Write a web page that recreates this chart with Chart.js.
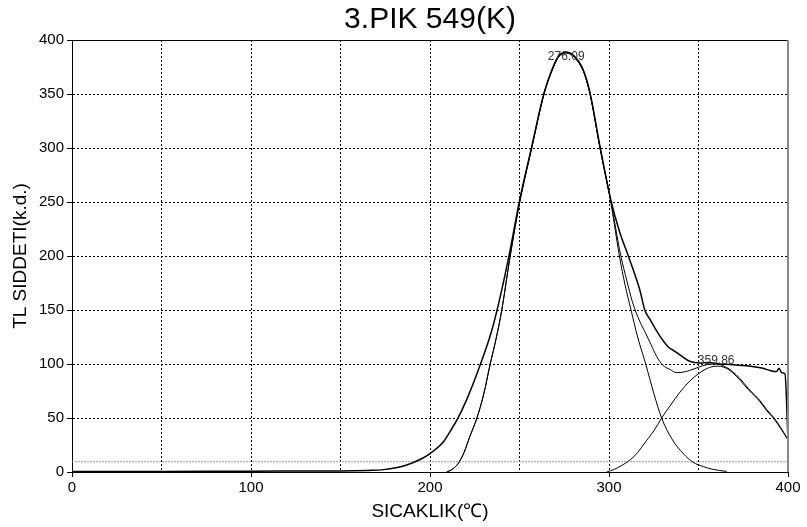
<!DOCTYPE html>
<html>
<head>
<meta charset="utf-8">
<script src="https://cdn.jsdelivr.net/npm/chart.js@4.4.0/dist/chart.umd.min.js"></script>
<style>
html,body{margin:0;padding:0;background:#fff;}
canvas{display:block;}
</style>
</head>
<body>
<canvas id="glow" width="807" height="527"></canvas>
<script>
// glow curve, 3rd peak — measured signal plus two fitted components and their sum
const measT = [0,50,100,150,165,174,187,195,200,207.5, 211,215,220.5,228,234.5,240,244.7,250,256.8,263.7,
  268,271.7,276.09,280,285.7,289.4,295,301,306,310.8, 317.3,320,323,328,333,336.5,340,345,351,356,
  362,368,375,381,386,390,393.6,395,396.5,398.3, 400];
const measI = [0.5,0.5,0.8,1,1.5,2.2,6.5,12,17,28, 37,48,67,99,131,168,205,251,301,351,
  372,385,389,386,372,351,301,252,222,200, 168,150,141,127,116,112,108,102.5,101,101.5,
  100,99.5,98.5,97.5,96,94,93,96,92,91, 30];

const peak1T = [209.3,212,215.8,219,222.3,226,230,233.5,237,240, 244.7,250,256.8,263.7,268,271.7,276.09,280,285.7,289.4,
  295,301,305.8,309,312.3,316,320.5,325,329.4,335, 341.5,347,352.7,358,365.7];
const peak1I = [0,2,8,18,33,49,72,99,124,149, 199,249,300,350,371,384,388,385,371,350,
  300,250,200,173,150,125,100,73,50,31, 17,9,5,2.5,0.5];

const peak2T = [298.7,303,307,311.7,316,320,325,329.4,334,339.7, 345,350,355,359.86,365,369,373.2,378,384.4,388, 391.8,396,400];
const peak2I = [0,2.5,6,11,18,27,38,50,61,74, 84,91,96,98,96.5,92,85,76,65,57, 50,40,30];

const sumT = [209.3,212,215.8,219,222.3,226,230,233.5,237,240, 244.7,250,256.8,263.7,268,271.7,276.09,280,285.7,289.4,
  295,301,306.5,310,313,317.3,320,323.5,326.6,330, 334,337.8,341.5,345,350,355,360,365,369,373.2, 378,384.4,388,391.8,396,400];
const sumI = [0,2,8,18,33,49,72,99,124,149, 199,249,300,350,371,384,388,385,371,350,
  300,251,201,177,158,139,130,118,107,99, 95,92,92.5,94,97,99.5,100,97.5,93,86.5, 77,66,58,51,41,30];

// background level
const levelT = [0, 400];
const levelI = [9.5, 9.5];

// fitted peak maxima
const peakT = [276.09, 359.86];
const peakI = [388, 98];

const xTicks = [0,50,100,150,200,250,300,350,400];
const xLabels = [0,100,200,300,400];
const yTicks = [0,50,100,150,200,250,300,350,400];

const FONT = 'Liberation Sans';

function pts(xs, ys){ return xs.map((x,i)=>({x:x, y:ys[i]})); }

function thin(data){
  return {data, borderColor:'#000', borderWidth:1, pointRadius:0, cubicInterpolationMode:'monotone', fill:false};
}

const titlePlugin = {
  id:'topTitle',
  afterDraw(chart){
    const {ctx, chartArea:a} = chart;
    ctx.save();
    ctx.fillStyle = '#000';
    ctx.font = '30px "' + FONT + '"';
    ctx.textAlign = 'center';
    ctx.textBaseline = 'middle';
    ctx.fillText('3.PIK 549(K)', (a.left + a.right)/2, 20);
    ctx.restore();
  }
};

// solid top edge and grey right edge of the plot box
const framePlugin = {
  id:'frame',
  afterDraw(chart){
    const {ctx, chartArea:a} = chart;
    ctx.save();
    ctx.lineWidth = 1;
    ctx.strokeStyle = '#000';
    ctx.beginPath(); ctx.moveTo(a.left, a.top + 0.5); ctx.lineTo(a.right, a.top + 0.5); ctx.stroke();
    ctx.strokeStyle = '#888';
    ctx.lineWidth = 2;
    ctx.beginPath(); ctx.moveTo(a.right, a.top); ctx.lineTo(a.right, a.bottom); ctx.stroke();
    ctx.restore();
  }
};

const peakLabelPlugin = {
  id:'peakLabels',
  afterDatasetsDraw(chart){
    const {ctx, scales} = chart;
    const shift = [4, -5];
    ctx.save();
    ctx.fillStyle = '#333';
    ctx.font = '12px "' + FONT + '"';
    ctx.textAlign = 'center';
    ctx.textBaseline = 'middle';
    peakT.forEach((t,i)=>{
      const x = scales.x.getPixelForValue(t);
      const y = scales.y.getPixelForValue(peakI[i]);
      ctx.fillText(t.toFixed(2), x, y + shift[i]);
    });
    ctx.restore();
  }
};

const edgeless = ctx => (ctx.tick && (ctx.tick.value === 0 || ctx.tick.value === 400)) ? 'rgba(0,0,0,0)' : '#000';

new Chart(document.getElementById('glow'), {
  type:'line',
  data:{
    datasets:[
      {data:pts(measT, measI), borderColor:'#000', borderWidth:1.5, pointRadius:0, cubicInterpolationMode:'monotone', fill:false},
      thin(pts(sumT, sumI)),
      thin(pts(peak1T, peak1I)),
      thin(pts(peak2T, peak2I)),
      {data:pts(levelT, levelI), borderColor:'#9a9a9a', borderWidth:1, borderDash:[2,1], pointRadius:0, fill:false}
    ]
  },
  options:{
    responsive:false,
    devicePixelRatio:1,
    animation:false,
    layout:{padding:{top:40, right:19, left:0, bottom:0}},
    plugins:{legend:{display:false}, tooltip:{enabled:false}, title:{display:false}},
    scales:{
      x:{
        type:'linear', min:0, max:400,
        afterBuildTicks: s => { s.ticks = xTicks.map(v=>({value:v})); },
        afterFit: s => { s.height = 55; },
        ticks:{
          autoSkip:false, maxRotation:0, padding:2, color:'#000',
          font:{family:FONT, size:15},
          callback: v => xLabels.includes(v) ? String(v) : ''
        },
        grid:{color:edgeless, lineWidth:1, tickLength:5,
          tickColor: ctx => (ctx.tick && xLabels.includes(ctx.tick.value)) ? '#000' : 'rgba(0,0,0,0)'},
        border:{display:true, color:'#000', width:1, dash:[2,2]},
        title:{display:true, text:'SICAKLIK(℃)', color:'#000', font:{family:FONT, size:19}, padding:{top:0, bottom:4}}
      },
      y:{
        type:'linear', min:0, max:400,
        afterBuildTicks: s => { s.ticks = yTicks.map(v=>({value:v})); },
        afterFit: s => { s.width = 72; },
        ticks:{padding:3, color:'#000', font:{family:FONT, size:15}},
        grid:{color:edgeless, lineWidth:1, tickLength:5, tickColor:'#000'},
        border:{display:true, color:'#000', width:1, dash:[2,2]},
        title:{display:true, text:'TL SIDDETI(k.d.)', color:'#000', font:{family:FONT, size:19}, padding:{top:9, bottom:0}}
      }
    }
  },
  plugins:[titlePlugin, framePlugin, peakLabelPlugin]
});
</script>
</body>
</html>
